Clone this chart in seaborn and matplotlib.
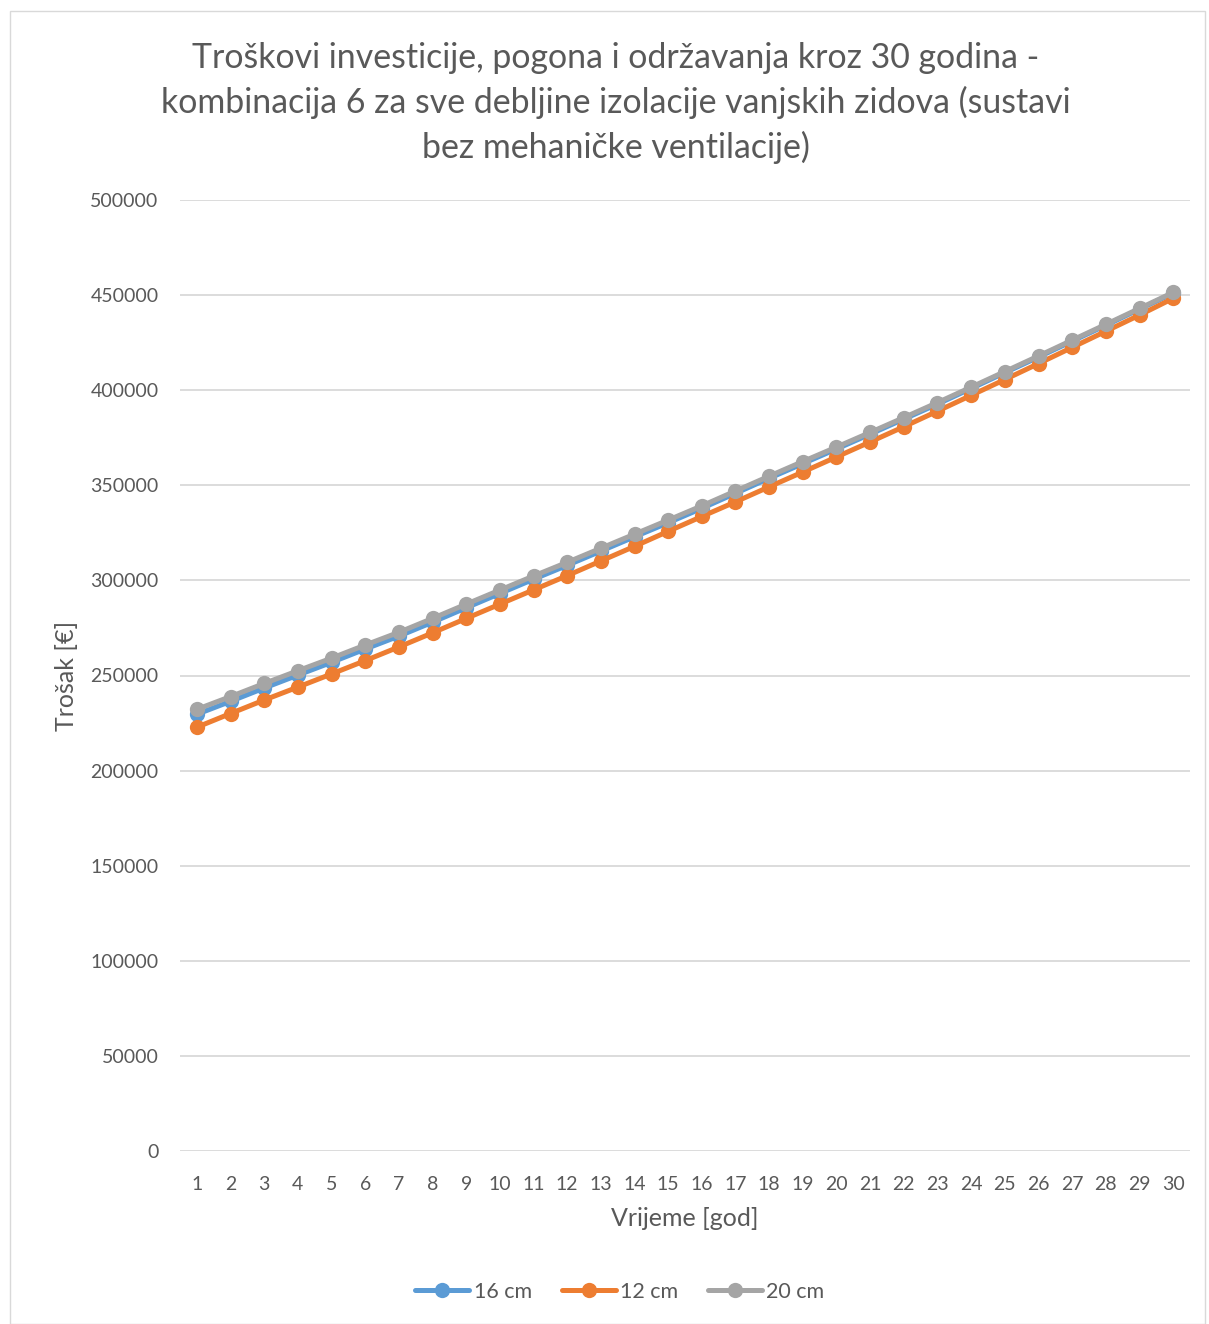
import matplotlib
matplotlib.use("Agg")
import matplotlib.pyplot as plt
import matplotlib.patches as mpatches
import seaborn as sns
import pandas as pd

years = list(range(1, 31))

cost_16cm = [229600, 236400, 243400, 250200, 256900, 263900, 270700, 278000, 285600, 293100,
             300600, 307900, 315400, 322900, 330300, 337900, 345800, 353700, 361400, 369100,
             376900, 384800, 392700, 400900, 409200, 417400, 425800, 434100, 442600, 451000]
cost_12cm = [222800, 230000, 237100, 243900, 250800, 257800, 265000, 272400, 280000, 287500,
             295000, 302500, 310200, 317900, 325800, 333600, 341300, 349200, 357000, 364900,
             372800, 380800, 389000, 397300, 405600, 414000, 422500, 431000, 439500, 448300]
cost_20cm = [232200, 238900, 245800, 252500, 259100, 266000, 272700, 280000, 287500, 294900,
             302300, 309500, 316900, 324300, 331700, 339200, 347000, 354800, 362500, 370100,
             377800, 385600, 393500, 401600, 409800, 418000, 426300, 434600, 443000, 451400]

series_names = ["16 cm", "12 cm", "20 cm"]
series_colors = ["#5B9BD5", "#ED7D31", "#A5A5A5"]
y_ticks = [0, 50000, 100000, 150000, 200000, 250000, 300000, 350000, 400000, 450000, 500000]

df = pd.DataFrame({
    "year": years * 3,
    "cost": cost_16cm + cost_12cm + cost_20cm,
    "series": [series_names[0]] * 30 + [series_names[1]] * 30 + [series_names[2]] * 30,
})

sns.set_theme(style="white")
plt.rcParams["font.family"] = ["Lato", "DejaVu Sans"]
text_color = "#595959"

fig = plt.figure(figsize=(12.09, 13.24), dpi=100)
ax = fig.add_axes([180 / 1209, 1 - 1151 / 1324, (1190 - 180) / 1209, (1151 - 200) / 1324])

# outer chart frame
fig.patches.append(mpatches.Rectangle((10 / 1209, 0.0), 1195 / 1209, 1 - 11 / 1324,
                                      transform=fig.transFigure, fill=False,
                                      edgecolor="#D9D9D9", linewidth=1.0))

sns.lineplot(data=df, x="year", y="cost", hue="series", hue_order=series_names,
             palette=series_colors, marker="o", markersize=11, markeredgewidth=0,
             linewidth=3.6, ax=ax, legend=False)

ax.set_xlim(0.5, 30.5)
ax.set_ylim(0, 500000)
ax.set_xticks(years)
ax.set_xticklabels([str(y) for y in years])
ax.set_yticks(y_ticks)
ax.set_yticklabels([str(v) for v in y_ticks])
ax.tick_params(axis="both", length=0, labelsize=14, colors=text_color)
ax.tick_params(axis="x", pad=18)
ax.tick_params(axis="y", pad=15.5)
ax.grid(axis="y", color="#D9D9D9", linewidth=1.3)
ax.set_axisbelow(True)
for s in ax.spines.values():
    s.set_visible(False)

ax.set_xlabel("Vrijeme [god]", fontsize=18, color=text_color, labelpad=10)
ax.set_ylabel("Trošak [€]", fontsize=18, color=text_color, labelpad=9)

fig.text(616 / 1209, 1 - 103 / 1324,
         "Troškovi investicije, pogona i održavanja kroz 30 godina -\n"
         "kombinacija 6 za sve debljine izolacije vanjskih zidova (sustavi\n"
         "bez mehaničke ventilacije)",
         ha="center", va="center", fontsize=24.4, color=text_color, linespacing=1.45)

handles = [plt.Line2D([], [], color=c, marker="o", markersize=11, markeredgewidth=0,
                      linewidth=3.6) for c in series_colors]
fig.legend(handles, series_names, loc="center", bbox_to_anchor=(620 / 1209, 1 - 1292 / 1324),
           ncol=3, frameon=False, fontsize=15.5, handlelength=2.5, handletextpad=0.2,
           columnspacing=1.4, labelcolor=text_color)

fig.savefig("out.png", dpi=100, facecolor="white")
